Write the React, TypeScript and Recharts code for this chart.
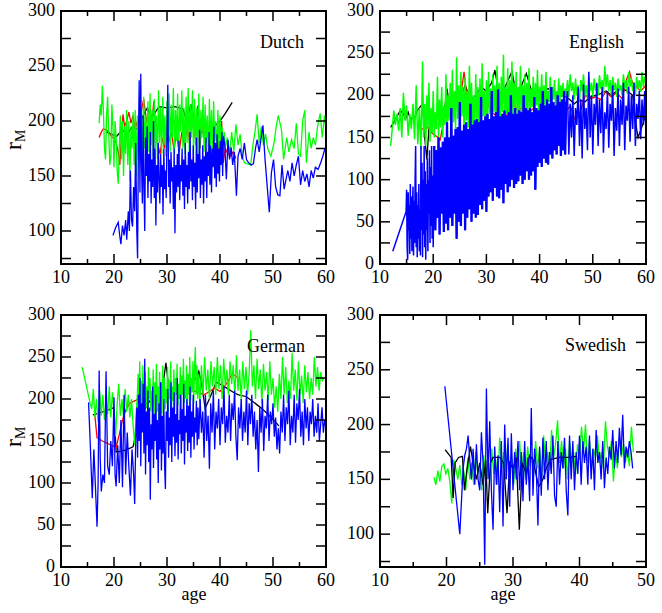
import { LineChart, Line, XAxis, YAxis } from 'recharts';

// r_M versus age, four languages. Dense series are stored on a regular age grid
// (start, step, values); sparse ones as [age, r] pairs.

const BLACK = '#000000';
const RED = '#ff0000';
const GREEN = '#00ff00';
const BLUE = '#0000ff';
const FONT = '"Liberation Serif", "Times New Roman", Times, serif';

const X_TICKS_60 = [10, 15, 20, 25, 30, 35, 40, 45, 50, 55, 60];
const X_LABELS_60 = [10, 20, 30, 40, 50, 60];
const X_TICKS_50 = [10, 15, 20, 25, 30, 35, 40, 45, 50];
const X_LABELS_50 = [10, 20, 30, 40, 50];
const Y_TICKS_0 = [0, 25, 50, 75, 100, 125, 150, 175, 200, 225, 250, 275, 300];
const Y_LABELS_0 = [0, 50, 100, 150, 200, 250, 300];
const Y_TICKS_70 = [75, 100, 125, 150, 175, 200, 225, 250, 275, 300];
const Y_LABELS_70 = [100, 150, 200, 250, 300];

// ---------- Dutch ----------
const DUTCH_GREEN_A = [
  198, 215, 205, 232, 210, 175, 165, 205, 222, 190,
  160, 168, 215, 195, 158, 200, 185, 155, 143, 175,
  205, 165, 200, 150, 195, 170, 210, 160, 200, 145,
  195, 175, 208, 160, 210, 150, 205, 165, 215, 170,
  210, 160, 222, 175, 205, 165, 218, 172, 225, 178,
  210, 168, 220, 175, 205, 165, 228, 180, 212, 170,
  222, 178, 205, 168, 218, 180, 225, 172, 215, 185,
  230, 170, 210, 182, 225, 168, 215, 190, 228, 175,
  212, 170, 222, 180, 230, 172, 215, 185, 228, 170,
  220, 178, 212, 168, 225, 175, 210, 185, 222, 172,
  215, 180, 205, 170, 220, 178, 210, 172, 218, 182,
  200, 168, 210, 175, 205, 172, 195, 178, 190, 176,
];
const DUTCH_GREEN_B = [
  [41.4, 185], [41.8, 170], [42.2, 190], [42.6, 172], [43.0, 197], [43.4, 178], [43.8, 188], [44.2, 168],
  [44.6, 162], [45.2, 161], [45.8, 160], [46.2, 178], [46.6, 190], [47.0, 206], [47.4, 180], [47.8, 195],
  [48.2, 178], [48.6, 188], [49.0, 175], [49.6, 168], [50.2, 180], [50.6, 195], [51.0, 205], [51.6, 192],
  [52.0, 165], [52.6, 185], [53.0, 172], [53.5, 183], [54.0, 175], [54.4, 198], [54.8, 170], [55.2, 168],
  [55.6, 200], [56.0, 210], [56.3, 162], [56.8, 190], [57.2, 175], [57.6, 185], [58.0, 178], [58.4, 195],
  [58.9, 207], [59.3, 185], [59.7, 205], [60.0, 190],
];
const DUTCH_BLUE_A = [
  [19.8, 96], [20.3, 103], [20.8, 108], [21.1, 95], [21.3, 88], [21.6, 105], [21.9, 96], [22.2, 110],
  [22.4, 92], [22.7, 118], [22.9, 100], [23.1, 155], [23.3, 110], [23.5, 104], [23.7, 140], [23.9, 118],
  [24.1, 180], [24.3, 100], [24.45, 75], [24.6, 175],
];
const DUTCH_BLUE_B = [
  237, 135, 243, 160, 125, 205, 140, 100, 185, 150,
  195, 130, 170, 145, 190, 125, 165, 140, 200, 130,
  175, 105, 160, 135, 180, 145, 125, 170, 140, 160,
  115, 175, 138, 155, 130, 190, 233, 140, 165, 125,
  172, 145, 158, 120, 175, 98, 160, 135, 170, 140,
  182, 128, 160, 145, 175, 132, 165, 120, 180, 140,
  160, 125, 172, 138, 190, 145, 165, 128, 178, 140,
  162, 120, 185, 135, 170, 148, 192, 130, 165, 142,
  178, 125, 168, 145, 185, 130, 172, 150, 190, 142,
  178, 135, 175, 158, 195, 148, 180, 140, 188, 152,
  175, 145, 182, 160, 190, 150, 186,
];
const DUTCH_BLUE_C = [
  [40.9, 178], [41.2, 147], [41.5, 183], [41.8, 165], [42.1, 176], [42.4, 160], [42.7, 172], [43.1, 132],
  [43.4, 168], [43.8, 175], [44.2, 165], [44.6, 180], [45.0, 165], [45.4, 162], [45.9, 160], [46.3, 161],
  [46.7, 175], [47.0, 183], [47.4, 172], [47.8, 186], [48.1, 196], [48.5, 165], [48.9, 141], [49.3, 117],
  [49.7, 153], [50.1, 165], [50.5, 140], [50.9, 133], [51.3, 132], [51.7, 160], [52.1, 138], [52.5, 148],
  [52.8, 155], [53.2, 145], [53.6, 162], [54.0, 150], [54.4, 160], [54.8, 168], [55.2, 142], [55.6, 155],
  [56.0, 145], [56.4, 152], [56.8, 140], [57.2, 155], [57.6, 148], [58.0, 158], [58.5, 156], [59.0, 162],
  [59.4, 168], [59.8, 175],
];
const DUTCH_RED = [
  [17.2, 185], [17.6, 190], [18.0, 193], [18.5, 192], [19.0, 190], [19.5, 186], [20.0, 184], [20.4, 180],
  [20.8, 172], [21.1, 160], [21.4, 185], [21.7, 206], [22.0, 195], [22.4, 200], [22.8, 208], [23.2, 198],
  [23.6, 205], [24.0, 192], [24.4, 200], [24.8, 190], [25.2, 210], [25.6, 220], [26.0, 205], [26.4, 195],
  [26.8, 210], [27.2, 200], [27.5, 218], [27.9, 190], [28.3, 178], [28.7, 170], [29.1, 185], [29.5, 175],
  [29.9, 195], [30.3, 180], [30.8, 190], [31.3, 175], [31.8, 188], [32.3, 172], [32.8, 190], [33.3, 178],
  [33.8, 195], [34.3, 180], [34.8, 200], [35.3, 185], [35.8, 214], [36.2, 175], [36.6, 200], [37.0, 185],
  [37.5, 195], [38.0, 178], [38.5, 190], [39.0, 172], [39.5, 185], [40.0, 170], [40.3, 200], [40.6, 162],
  [41.0, 175], [41.5, 170], [42.0, 168], [42.5, 172], [43.0, 166],
];
const DUTCH_BLACK = [
  [18.5, 190], [19.5, 188], [20.5, 186], [21.5, 192], [22.5, 188], [23.5, 195], [24.5, 192], [25.5, 205],
  [26.3, 212], [27.0, 202], [27.8, 208], [28.5, 213], [30.0, 212], [31.5, 213], [33.0, 211], [33.7, 200],
  [34.5, 215], [35.3, 198], [36.2, 188], [37.2, 192], [38.5, 193], [40.0, 200], [41.0, 207], [42.3, 217],
];

// ---------- English ----------
const ENG_GREEN_A = [
  140, 160, 182, 165, 178, 158, 185, 150, 203, 170,
  188, 152, 178, 160, 190, 148, 212, 142, 185, 136,
];
const ENG_GREEN_B = [
  240, 150, 190, 140, 200, 160, 215, 145, 185, 155,
  205, 150, 180, 160, 222, 148, 195, 162, 210, 150,
  188, 165, 225, 155, 200, 170, 215, 158, 230, 168,
  205, 160, 245, 172, 212, 165, 228, 175, 210, 160,
  222, 170, 205, 162, 235, 175, 215, 165, 200, 158,
  225, 172, 210, 160, 220, 168, 238, 175, 205, 162,
  218, 170, 228, 178, 208, 165, 225, 180, 212, 168,
  235, 175, 215, 170, 222, 180, 248, 172, 210, 178,
  232, 168, 218, 182, 240, 175, 215, 185, 228, 172,
  210, 180, 235, 175, 212, 185, 225, 170, 215, 182,
  232, 178, 208, 186, 222, 175, 215, 188, 230, 180,
  210, 190, 225, 178, 212, 188, 228, 182, 205, 192,
  222, 185, 210, 195, 218, 188, 205, 196, 220, 190,
  212, 198, 215, 192, 208, 200,
];
const ENG_GREEN_C = [
  218, 198, 225, 205, 215, 195, 220, 200, 212, 192,
  218, 205, 225, 200, 212, 196, 222, 205, 215, 198,
  220, 206, 214, 200, 224, 208, 218, 202, 235, 210,
  225, 205, 218, 200, 222, 206, 215, 198, 220, 205,
  212, 200, 225, 208, 218, 202, 228, 210, 220, 205,
  215, 200, 222, 208, 218, 204, 228, 210, 222, 215,
];
const ENG_BLUE_START = [[12.4, 15], [14.9, 62]];
const ENG_BLUE_A = [
  88, 20, 5, 85, 40, 70, 12, 95, 30, 80,
  15, 60, 92, 10, 75, 25, 98, 140, 20, 85,
  8, 70, 30, 95, 15, 65, 10, 140, 40, 120,
  8, 100, 35, 140, 20, 110, 5, 95, 40, 125,
  15, 100, 60, 135, 25, 115, 45, 140, 30, 105,
  20,
];
const ENG_BLUE_B = [
  140, 40, 135, 55, 150, 35, 138, 60, 145, 38,
  150, 48, 168, 40, 150, 55, 185, 45, 152, 60,
  160, 30, 162, 50, 192, 45, 158, 60, 165, 40,
  168, 55, 160, 65, 190, 50, 165, 60, 170, 55,
  172, 58, 168, 70, 198, 65, 170, 75, 175, 62,
  178, 80, 172, 85, 205, 75, 175, 90, 180, 80,
  207, 78, 175, 88, 178, 72, 182, 95, 176, 85,
  180, 92, 200, 100, 178, 90, 185, 95, 178, 98,
  182, 105, 180, 95, 200, 100, 185, 110, 182, 100,
  185, 105, 180, 110, 198, 88, 185, 115, 182, 120,
  190, 115, 205, 125, 188, 120, 195, 118, 190, 130,
  210, 125, 192, 135, 188, 130, 200, 140, 192, 128,
  195, 135, 205, 130, 192,
];
const ENG_BLUE_C = [
  205, 130, 190, 150, 200, 128, 185, 165, 210, 140,
  195, 125, 213, 160, 185, 135, 228, 150, 200, 130,
  190, 165, 215, 140, 195, 155, 210, 132, 180, 160,
  205, 138, 190, 170, 212, 128, 185, 158, 208, 140,
  195, 165, 215, 135, 188, 170, 210, 145, 200, 160,
  215, 140, 190, 172, 205, 148, 195, 165, 205, 150,
];
const ENG_BLACK = [
  [12.0, 162], [12.6, 168], [13.2, 175], [13.8, 182], [14.4, 178], [14.8, 172], [15.3, 180], [15.8, 170],
  [16.2, 176], [16.6, 174], [17.0, 182], [17.5, 186], [18.0, 190], [18.4, 150], [18.8, 124], [19.2, 160],
  [19.6, 175], [20.2, 168], [21.0, 180], [22.0, 175], [22.6, 208], [23.2, 180], [24.0, 190], [25.0, 195],
  [26.0, 212], [27.0, 195], [28.0, 200], [29.0, 210], [30.0, 205], [31.0, 215], [31.6, 230], [32.4, 200],
  [33.5, 210], [34.8, 228], [35.5, 205], [36.5, 210], [37.5, 226], [38.5, 205], [40.0, 200], [41.5, 208],
  [42.5, 205], [43.5, 198], [44.5, 200], [45.5, 196], [46.5, 190], [47.5, 195], [48.5, 192], [49.5, 198],
  [50.5, 200], [51.5, 202], [52.5, 205], [53.5, 200], [54.5, 205], [55.5, 208], [56.5, 205], [57.5, 200],
  [58.0, 170], [58.5, 150], [59.2, 162], [60.0, 178],
];
const ENG_RED = [
  [17.0, 165], [18.0, 160], [19.0, 162], [19.8, 155], [20.9, 150], [21.3, 147], [22.0, 170], [22.8, 185],
  [23.6, 200], [24.5, 195], [25.3, 205], [25.8, 228], [26.3, 200], [27.0, 190], [28.0, 195], [29.0, 185],
  [30.0, 192], [31.0, 180], [32.0, 175], [32.6, 140], [33.0, 103], [33.4, 150], [34.0, 185], [35.0, 190],
  [36.0, 182], [37.0, 188], [38.0, 180], [39.0, 185], [40.0, 178], [41.0, 182], [42.0, 176], [43.0, 180],
  [44.0, 178], [45.0, 182], [45.8, 187], [46.6, 172], [47.4, 175], [48.0, 188], [48.6, 200], [49.5, 196],
  [50.5, 198], [51.5, 195], [52.4, 204], [53.5, 198], [54.5, 203], [55.5, 196], [56.4, 220], [56.9, 228],
  [57.4, 216], [58.2, 210], [59.0, 205], [60.0, 212],
];

// ---------- German ----------
const GER_GREEN_A = [
  [14.0, 238], [15.5, 195], [15.8, 188], [16.1, 212], [16.4, 178], [16.7, 200], [17.0, 172], [17.3, 210],
  [17.6, 180], [17.9, 205], [18.2, 175], [18.5, 198], [18.8, 182], [19.1, 215], [19.4, 178], [19.7, 208],
  [20.0, 185], [20.3, 155], [20.6, 195], [20.9, 218], [21.2, 180], [21.5, 200], [21.8, 178], [22.1, 212],
  [22.4, 185], [22.7, 205], [23.0, 178], [23.3, 200], [23.6, 170], [23.9, 145], [24.2, 185],
];
const GER_GREEN_B = [
  205, 230, 180, 245, 195, 222, 185, 240, 200, 172,
  232, 190, 215, 178, 238, 200, 225, 185, 210, 192,
  235, 180, 220, 198, 242, 185, 215, 175, 232, 195,
  220, 182, 240, 200, 225, 188, 212, 195, 238, 185,
  222, 200, 245, 190, 215, 198, 235, 185, 225, 205,
  242, 192, 218, 200, 238, 188, 228, 205, 248, 195,
  222, 200, 240, 190, 230, 205, 250, 198, 225, 208,
  245, 195, 238, 262, 205, 240, 200, 230,
];
const GER_GREEN_C = [
  195, 240, 205, 250, 210, 235, 200, 245, 215, 238,
  205, 250, 212, 240, 200, 248, 215, 235, 205, 245,
  218, 240, 202, 252, 210, 235, 198, 245, 212, 238,
  205, 230, 282, 215, 240, 200, 248, 212, 235, 195,
  242, 210, 232, 198, 245, 205, 225, 190, 215, 185,
  230, 200, 250, 205, 238, 195, 222, 200, 255, 210,
  235, 198, 245, 205, 228, 195, 240, 208, 232, 200,
  225, 205, 250, 215, 238, 210, 232, 222, 225,
];
const GER_BLUE_A = [
  [15.2, 196], [15.5, 150], [15.9, 82], [16.2, 140], [16.5, 95], [16.8, 48], [17.0, 100], [17.2, 234],
  [17.4, 130], [17.6, 90], [17.9, 110], [18.2, 100], [18.5, 233], [18.8, 120], [19.1, 110], [19.4, 150],
  [19.7, 120], [20.0, 202], [20.2, 110], [20.4, 96], [20.7, 145], [21.0, 100], [21.3, 175], [21.6, 95],
  [21.9, 205], [22.2, 110], [22.5, 160], [22.8, 120], [23.1, 85], [23.4, 140], [23.7, 110], [23.9, 75],
  [24.1, 150], [24.3, 190],
];
const GER_BLUE_B = [
  130, 205, 150, 225, 120, 195, 160, 218, 135, 248,
  110, 185, 145, 210, 125, 190, 80, 170, 140, 215,
  118, 182, 150, 205, 128, 175, 100, 195, 140, 220,
  115, 180, 135, 200, 120, 93, 185, 150, 212, 130,
  178, 145, 220, 125, 190, 155, 208, 132, 182, 148,
  225, 128, 175, 158, 205, 135, 188, 150, 218, 122,
  180, 160, 200, 138, 192, 148, 215, 130, 185, 155,
  205, 140, 178, 160, 198, 145, 190, 152,
];
const GER_BLUE_C = [
  200, 160, 185, 130, 205, 150, 180, 117, 195, 160,
  210, 140, 185, 165, 200, 145, 190, 170, 215, 148,
  180, 160, 205, 150, 195, 175, 210, 155, 127, 190,
  165, 200, 150, 185, 160, 210, 145, 195, 170, 205,
  155, 185, 140, 175, 113, 190, 160, 200, 138, 180,
  165, 205, 150, 185, 170, 195, 155, 178, 140, 165,
  135, 185, 160, 205, 150, 190, 170, 210, 145, 180,
  160, 205, 148, 195, 175, 212, 155, 185, 145, 200,
  165, 190, 150, 185, 170, 200, 155, 180, 160, 195,
  150, 170, 190, 160, 175, 165,
];
const GER_BLACK = [
  [16.0, 181], [17.0, 183], [18.0, 185], [19.0, 187], [20.0, 190], [20.4, 137], [21.5, 138], [22.5, 140],
  [23.6, 143], [24.5, 170], [25.5, 185], [26.5, 195], [27.5, 205], [28.5, 210], [29.3, 220], [29.8, 243],
  [30.3, 215], [31.5, 205], [32.5, 210], [33.5, 215], [34.5, 220], [35.5, 225], [36.0, 233], [36.6, 215],
  [37.2, 189], [38.0, 200], [39.3, 220], [40.5, 216], [41.5, 212], [42.5, 208], [43.5, 205], [44.9, 203],
  [46.0, 198], [47.0, 193], [48.0, 188], [49.0, 182], [50.0, 176], [51.1, 168],
];
const GER_RED = [
  [16.3, 186], [16.8, 154], [17.8, 150], [18.8, 147], [19.8, 144], [20.4, 142], [21.0, 158], [21.6, 175],
  [22.3, 188], [23.0, 195], [24.0, 198], [25.0, 202], [26.0, 200], [27.0, 205], [28.0, 200], [29.0, 208],
  [30.0, 205], [31.0, 210], [32.0, 205], [33.0, 212], [34.0, 208], [35.0, 210], [36.2, 207], [37.0, 205],
  [38.0, 209], [39.0, 213], [40.0, 209], [41.0, 216], [42.3, 230], [43.5, 225],
];

// ---------- Swedish ----------
const SWE_GREEN = [
  152, 145, 158, 148, 162, 164, 155, 160, 148, 128,
  168, 160, 150, 163, 145, 158, 140, 170, 150, 165,
  145, 175, 155, 160, 140, 172, 150, 165, 148, 178,
  155, 168, 145, 188, 160, 175, 150, 182, 158, 170,
  145, 178, 160, 185, 155, 175, 150, 180, 162, 170,
  155, 185, 160, 178, 150, 190, 165, 175, 158, 195,
  170, 182, 204, 165, 185, 160, 178, 150, 185, 165,
  175, 155, 182, 168, 198, 175, 200, 165, 185, 160,
  178, 170, 190, 165, 175, 160, 203, 180, 170, 185,
  148, 175, 160, 188, 170, 182, 165, 178, 162, 198,
  175,
];
const SWE_BLUE_A = [[19.75, 235], [22.0, 100], [22.5, 160]];
const SWE_BLUE_B = [
  172, 178, 190, 168, 150, 178, 145, 182, 150, 140,
  193, 165, 72, 233, 150, 203, 140, 104, 180, 145,
  172, 120, 185, 107, 200, 150, 188, 125, 192, 140,
  175, 150, 185, 140, 175, 130, 185, 145, 170, 130,
  215, 135, 178, 160, 108, 180, 135, 188, 150, 185,
  140, 175, 155, 190, 135, 125, 185, 145, 175, 160,
  188, 140, 117, 190, 150, 185, 140, 175, 155, 190,
  145, 185, 165, 180, 145, 190, 150, 178, 140, 195,
  165, 175, 150, 185, 142, 170, 155, 180, 168, 195,
  160, 185, 165, 197, 172, 209, 160, 180, 170, 185,
  175, 160,
];
const SWE_BLACK = [
  [19.8, 177], [20.7, 170], [21.0, 133], [21.3, 165], [21.8, 170], [22.4, 171], [22.7, 140], [23.1, 160],
  [23.6, 180], [24.0, 165], [24.5, 150], [25.0, 165], [25.5, 145], [25.9, 168], [26.2, 119], [26.6, 165],
  [27.0, 170], [28.0, 170], [28.6, 165], [29.1, 119], [29.5, 165], [30.0, 160], [30.5, 170], [30.95, 104],
  [31.4, 165], [32.0, 155], [32.5, 172], [33.0, 168], [33.85, 143], [34.5, 150], [35.0, 160], [35.6, 168],
  [37.0, 170], [38.5, 170], [39.6, 171],
];

type Pt = { x: number; y: number };
const grid = (start: number, step: number, r: number[]): Pt[] =>
  r.map((y, i) => ({ x: Math.round((start + i * step) * 100) / 100, y }));
const pairs = (p: number[][]): Pt[] => p.map(([x, y]) => ({ x, y }));
const join = (...parts: Pt[][]): Pt[] => parts.flat().sort((a, b) => a.x - b.x);

type Series = { color: string; data: Pt[]; width?: number };

// drawing order: black, red, green, blue (blue on top)
const dutchSeries: Series[] = [
  { color: BLACK, data: pairs(DUTCH_BLACK) },
  { color: RED, data: pairs(DUTCH_RED) },
  { color: GREEN, data: join(grid(17.2, 0.2, DUTCH_GREEN_A), pairs(DUTCH_GREEN_B)) },
  { color: BLUE, data: join(pairs(DUTCH_BLUE_A), grid(24.75, 0.15, DUTCH_BLUE_B), pairs(DUTCH_BLUE_C)) },
];
const engBlueCore = grid(20.2, 0.2, ENG_BLUE_B);
const englishSeries: Series[] = [
  { color: BLACK, data: pairs(ENG_BLACK) },
  { color: RED, data: pairs(ENG_RED) },
  { color: GREEN, data: join(grid(12, 0.3, ENG_GREEN_A), grid(18, 0.2, ENG_GREEN_B), grid(45.25, 0.25, ENG_GREEN_C)), width: 1.5 },
  {
    color: BLUE,
    data: join(pairs(ENG_BLUE_START), grid(15, 0.1, ENG_BLUE_A), engBlueCore, grid(45.25, 0.25, ENG_BLUE_C)),
    width: 1.5,
  },
  // the densest stretch is sampled so tightly in the original that it prints as a solid band
  { color: BLUE, data: engBlueCore, width: 2.3 },
];
const germanSeries: Series[] = [
  { color: BLACK, data: pairs(GER_BLACK) },
  { color: RED, data: pairs(GER_RED) },
  { color: GREEN, data: join(pairs(GER_GREEN_A), grid(24.4, 0.15, GER_GREEN_B), grid(36.2, 0.3, GER_GREEN_C)) },
  { color: BLUE, data: join(pairs(GER_BLUE_A), grid(24.45, 0.15, GER_BLUE_B), grid(36.25, 0.25, GER_BLUE_C)) },
];
const swedishSeries: Series[] = [
  { color: GREEN, data: grid(18.1, 0.3, SWE_GREEN) },
  { color: BLACK, data: pairs(SWE_BLACK) },
  { color: BLUE, data: join(pairs(SWE_BLUE_A), grid(22.75, 0.25, SWE_BLUE_B)) },
];

function XTick(props: any) {
  const { x, y, payload, plotH, labels } = props;
  const v = payload.value;
  const major = labels.includes(v);
  const len = major ? 10 : 5;
  return (
    <g>
      <line x1={x} x2={x} y1={y} y2={y - len} stroke="#000" strokeWidth={1.5} />
      <line x1={x} x2={x} y1={y - plotH} y2={y - plotH + len} stroke="#000" strokeWidth={1.5} />
      {major && (
        <text className="lbl" x={x} y={y + 19} textAnchor="middle" fill="#000">
          {v}
        </text>
      )}
    </g>
  );
}

function YTick(props: any) {
  const { x, y, payload, plotW, labels } = props;
  const v = payload.value;
  return (
    <g>
      <line x1={x} x2={x + 10} y1={y} y2={y} stroke="#000" strokeWidth={1.5} />
      <line x1={x + plotW} x2={x + plotW - 10} y1={y} y2={y} stroke="#000" strokeWidth={1.5} />
      {labels.includes(v) && (
        <text className="lbl" x={x - 6} y={y + 5} textAnchor="end" fill="#000">
          {v}
        </text>
      )}
    </g>
  );
}

interface PanelProps {
  left: number;
  top: number;
  width: number;
  height: number;
  yAxisW: number;
  mRight: number;
  mTop: number;
  xAxisH: number;
  xMax: number;
  xTicks: number[];
  xLabels: number[];
  yMin: number;
  yTicks: number[];
  yLabels: number[];
  series: Series[];
}

function Panel(p: PanelProps) {
  const plotH = p.height - p.mTop - p.xAxisH;
  const plotW = p.width - p.yAxisW - p.mRight;
  return (
    <div style={{ position: 'absolute', left: p.left, top: p.top }}>
      <LineChart width={p.width} height={p.height} margin={{ top: p.mTop, right: p.mRight, left: 0, bottom: 0 }}>
        <XAxis
          type="number"
          dataKey="x"
          domain={[10, p.xMax]}
          ticks={p.xTicks}
          interval={0}
          allowDataOverflow
          axisLine={false}
          tickLine={false}
          tickSize={0}
          tickMargin={0}
          height={p.xAxisH}
          tick={(t: any) => <XTick {...t} plotH={plotH} labels={p.xLabels} />}
        />
        <YAxis
          type="number"
          domain={[p.yMin, 300]}
          ticks={p.yTicks}
          interval={0}
          allowDataOverflow
          axisLine={false}
          tickLine={false}
          tickSize={0}
          tickMargin={0}
          width={p.yAxisW}
          tick={(t: any) => <YTick {...t} plotW={plotW} labels={p.yLabels} />}
        />
        {p.series.map((s, i) => (
          <Line
            key={i}
            data={s.data}
            dataKey="y"
            type="linear"
            stroke={s.color}
            strokeWidth={s.width ?? 1.3}
            dot={false}
            activeDot={false}
            isAnimationActive={false}
          />
        ))}
      </LineChart>
    </div>
  );
}

function RLabel({ x, y }: { x: number; y: number }) {
  return (
    <text className="lbl-r" x={x} y={y} transform={`rotate(-90 ${x} ${y})`} fill="#000">
      r
      <tspan className="lbl-sub" dy={4}>
        M
      </tspan>
    </text>
  );
}

const CSS = `
.recharts-surface{overflow:visible}
.lbl{font-family:${FONT} !important;font-size:18px}
.lbl-r{font-family:${FONT} !important;font-size:24px}
.lbl-sub{font-size:14px}
`;

export default function App() {
  return (
    <div
      style={{
        position: 'absolute',
        left: 0,
        top: 0,
        width: 662,
        height: 613,
        background: '#fff',
        overflow: 'hidden',
        fontFamily: FONT,
      }}
    >
      <style>{CSS}</style>
      <Panel
        left={0} top={0} width={331} height={300} yAxisW={61} mRight={5} mTop={11} xAxisH={36}
        xMax={60} xTicks={X_TICKS_60} xLabels={X_LABELS_60}
        yMin={70} yTicks={Y_TICKS_70} yLabels={Y_LABELS_70} series={dutchSeries}
      />
      <Panel
        left={331} top={0} width={331} height={300} yAxisW={49} mRight={16} mTop={11} xAxisH={36}
        xMax={60} xTicks={X_TICKS_60} xLabels={X_LABELS_60}
        yMin={0} yTicks={Y_TICKS_0} yLabels={Y_LABELS_0} series={englishSeries}
      />
      <Panel
        left={0} top={300} width={331} height={313} yAxisW={61} mRight={5} mTop={15} xAxisH={46}
        xMax={60} xTicks={X_TICKS_60} xLabels={X_LABELS_60}
        yMin={0} yTicks={Y_TICKS_0} yLabels={Y_LABELS_0} series={germanSeries}
      />
      <Panel
        left={331} top={300} width={331} height={313} yAxisW={49} mRight={16} mTop={15} xAxisH={46}
        xMax={50} xTicks={X_TICKS_50} xLabels={X_LABELS_50}
        yMin={70} yTicks={Y_TICKS_70} yLabels={Y_LABELS_70} series={swedishSeries}
      />
      <svg width={662} height={613} style={{ position: 'absolute', left: 0, top: 0, pointerEvents: 'none' }}>
        <rect x={61} y={11} width={265} height={253} fill="none" stroke="#000" strokeWidth={2} />
        <rect x={380} y={11} width={266} height={253} fill="none" stroke="#000" strokeWidth={2} />
        <rect x={61} y={315} width={265} height={252} fill="none" stroke="#000" strokeWidth={2} />
        <rect x={380} y={315} width={266} height={252} fill="none" stroke="#000" strokeWidth={2} />
        <g fill="#000">
          <text className="lbl" x={304} y={48} textAnchor="end">Dutch</text>
          <text className="lbl" x={624} y={48} textAnchor="end">English</text>
          <text className="lbl" x={305} y={352} textAnchor="end">German</text>
          <text className="lbl" x={626} y={351} textAnchor="end">Swedish</text>
          <text className="lbl" x={194} y={600} textAnchor="middle">age</text>
          <text className="lbl" x={503} y={600} textAnchor="middle">age</text>
        </g>
        <RLabel x={21} y={150} />
        <RLabel x={21} y={447} />
      </svg>
    </div>
  );
}
